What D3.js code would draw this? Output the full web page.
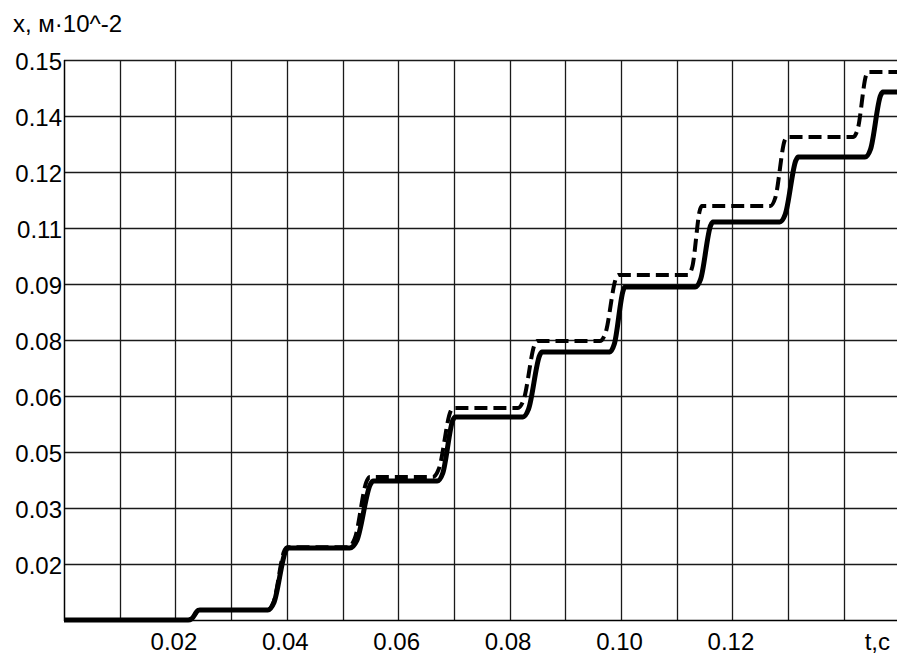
<!DOCTYPE html>
<html>
<head>
<meta charset="utf-8">
<script src="https://cdn.jsdelivr.net/npm/d3@7"></script>
<style>
  html, body { margin: 0; padding: 0; background: #fff; }
  svg { display: block; }
  text { font-family: "Liberation Sans", Arial, sans-serif; fill: #000; }
</style>
</head>
<body>
<svg id="chart" width="897" height="655"></svg>
<script>
// ---- data ----
const yTickValues = [0.015, 0.030, 0.045, 0.060, 0.075, 0.090, 0.105, 0.120, 0.135, 0.150];
const yTickLabels = ["0.02", "0.03", "0.05", "0.06", "0.08", "0.09", "0.11", "0.12", "0.14", "0.15"];
const xGridValues = [0.01, 0.02, 0.03, 0.04, 0.05, 0.06, 0.07, 0.08, 0.09, 0.10, 0.11, 0.12, 0.13, 0.14];
const xTickValues = [0.02, 0.04, 0.06, 0.08, 0.10, 0.12];
const xTickLabels = ["0.02", "0.04", "0.06", "0.08", "0.10", "0.12"];
const xAxisName = "t,c";
const yAxisName = "x, м·10^-2";

// solid curve (t, x)
const solidT = [0, 0.0223, 0.0229, 0.0241, 0.0244, 0.0366, 0.0377, 0.0398, 0.0402, 0.0513, 0.0526, 0.0550, 0.0555,
  0.0670, 0.0680, 0.0698, 0.0702, 0.0824, 0.0834, 0.0854, 0.0858, 0.0980, 0.0988, 0.1004, 0.1007,
  0.1133, 0.1143, 0.1161, 0.1165, 0.1285, 0.1295, 0.1314, 0.1318, 0.1438, 0.1448, 0.1466, 0.1470, 0.1500];
const solidX = [0, 0, 0.0003, 0.0026, 0.0027, 0.0027, 0.0047, 0.0185, 0.0193, 0.0193, 0.0214, 0.0363, 0.0372,
  0.0372, 0.0393, 0.0535, 0.0544, 0.0544, 0.0565, 0.0709, 0.0718, 0.0718, 0.0739, 0.0883, 0.0892,
  0.0892, 0.0913, 0.1057, 0.1066, 0.1066, 0.1087, 0.1231, 0.1240, 0.1240, 0.1261, 0.1405, 0.1414, 0.1414];

// dashed curve (t, x)
const dashT = [0, 0.0223, 0.0229, 0.0241, 0.0244, 0.0366, 0.0376, 0.0396, 0.0400, 0.0510, 0.0522, 0.0544, 0.0549,
  0.0662, 0.0673, 0.0694, 0.0698, 0.0815, 0.0825, 0.0845, 0.0849, 0.0962, 0.0972, 0.0991, 0.0995,
  0.1120, 0.1128, 0.1142, 0.1145, 0.1268, 0.1277, 0.1294, 0.1298, 0.1417, 0.1425, 0.1440, 0.1443, 0.1500];
const dashX = [0, 0, 0.0003, 0.0026, 0.0027, 0.0027, 0.0047, 0.0187, 0.0195, 0.0195, 0.0218, 0.0374, 0.0383,
  0.0383, 0.0405, 0.0559, 0.0568, 0.0568, 0.0589, 0.0738, 0.0747, 0.0747, 0.0768, 0.0915, 0.0924,
  0.0924, 0.0946, 0.1100, 0.1109, 0.1109, 0.1131, 0.1285, 0.1294, 0.1294, 0.1315, 0.1459, 0.1468, 0.1468];

// ---- drawing ----
(function () {
const svg = d3.select("#chart");
const pLeft = 64, pTop = 60, pBottom = 620, pRight = 899.5;
const x = d3.scaleLinear().domain([0, 0.15]).range([pLeft, pRight]);
const y = d3.scaleLinear().domain([0, 0.15]).range([pBottom, pTop]);

const gridColor = "#1a1a1a";

// horizontal grid
svg.append("g").selectAll("line").data(yTickValues).join("line")
  .attr("x1", pLeft).attr("x2", 897)
  .attr("y1", d => Math.round(y(d)) + 0.5).attr("y2", d => Math.round(y(d)) + 0.5)
  .attr("stroke", gridColor).attr("stroke-width", 1.3);

// vertical grid
svg.append("g").selectAll("line").data(xGridValues).join("line")
  .attr("x1", d => Math.round(x(d)) + 0.5).attr("x2", d => Math.round(x(d)) + 0.5)
  .attr("y1", pTop).attr("y2", pBottom)
  .attr("stroke", gridColor).attr("stroke-width", 1.3);

// axes frame lines
svg.append("line").attr("x1", pLeft + 0.5).attr("x2", pLeft + 0.5).attr("y1", pTop).attr("y2", pBottom + 1)
  .attr("stroke", "#000").attr("stroke-width", 1.5);
svg.append("line").attr("x1", pLeft).attr("x2", 897).attr("y1", pBottom + 0.5).attr("y2", pBottom + 0.5)
  .attr("stroke", "#000").attr("stroke-width", 1.5);

// y axis labels via d3 axis
const yAxis = d3.axisLeft(y).tickValues(yTickValues)
  .tickFormat((d, i) => yTickLabels[i]).tickSize(0).tickPadding(2);
const gy = svg.append("g").attr("transform", `translate(${pLeft},0)`).call(yAxis);
gy.select(".domain").remove();
gy.selectAll("text").attr("font-size", 24).attr("dy", "0.4em")
  .style("font-family", '"Liberation Sans", Arial, sans-serif').attr("fill", "#000");

// x axis labels via d3 axis
const xAxis = d3.axisBottom(x).tickValues(xTickValues)
  .tickFormat((d, i) => xTickLabels[i]).tickSize(0).tickPadding(0);
const gx = svg.append("g").attr("transform", `translate(-2,${pBottom})`).call(xAxis);
gx.select(".domain").remove();
gx.selectAll("text").attr("font-size", 24).attr("dy", null).attr("y", 30)
  .style("font-family", '"Liberation Sans", Arial, sans-serif').attr("fill", "#000");

svg.append("text").attr("x", 890).attr("y", 650).attr("text-anchor", "end")
  .attr("font-size", 24).text(xAxisName);
svg.append("text").attr("x", 13).attr("y", 32).attr("font-size", 24).text(yAxisName);

// curves
const line = d3.line().x(d => x(d[0])).y(d => y(d[1])).curve(d3.curveMonotoneX);
const solidData = solidT.map((t, i) => [t, solidX[i]]);
const dashData = dashT.map((t, i) => [t, dashX[i]]);

svg.append("path").datum(solidData).attr("d", line)
  .attr("fill", "none").attr("stroke", "#000").attr("stroke-width", 5)
  .attr("stroke-linejoin", "round");
svg.append("path").datum(dashData).attr("d", line)
  .attr("fill", "none").attr("stroke", "#000").attr("stroke-width", 4)
  .attr("stroke-dasharray", "13,6");
})();
</script>
</body>
</html>
